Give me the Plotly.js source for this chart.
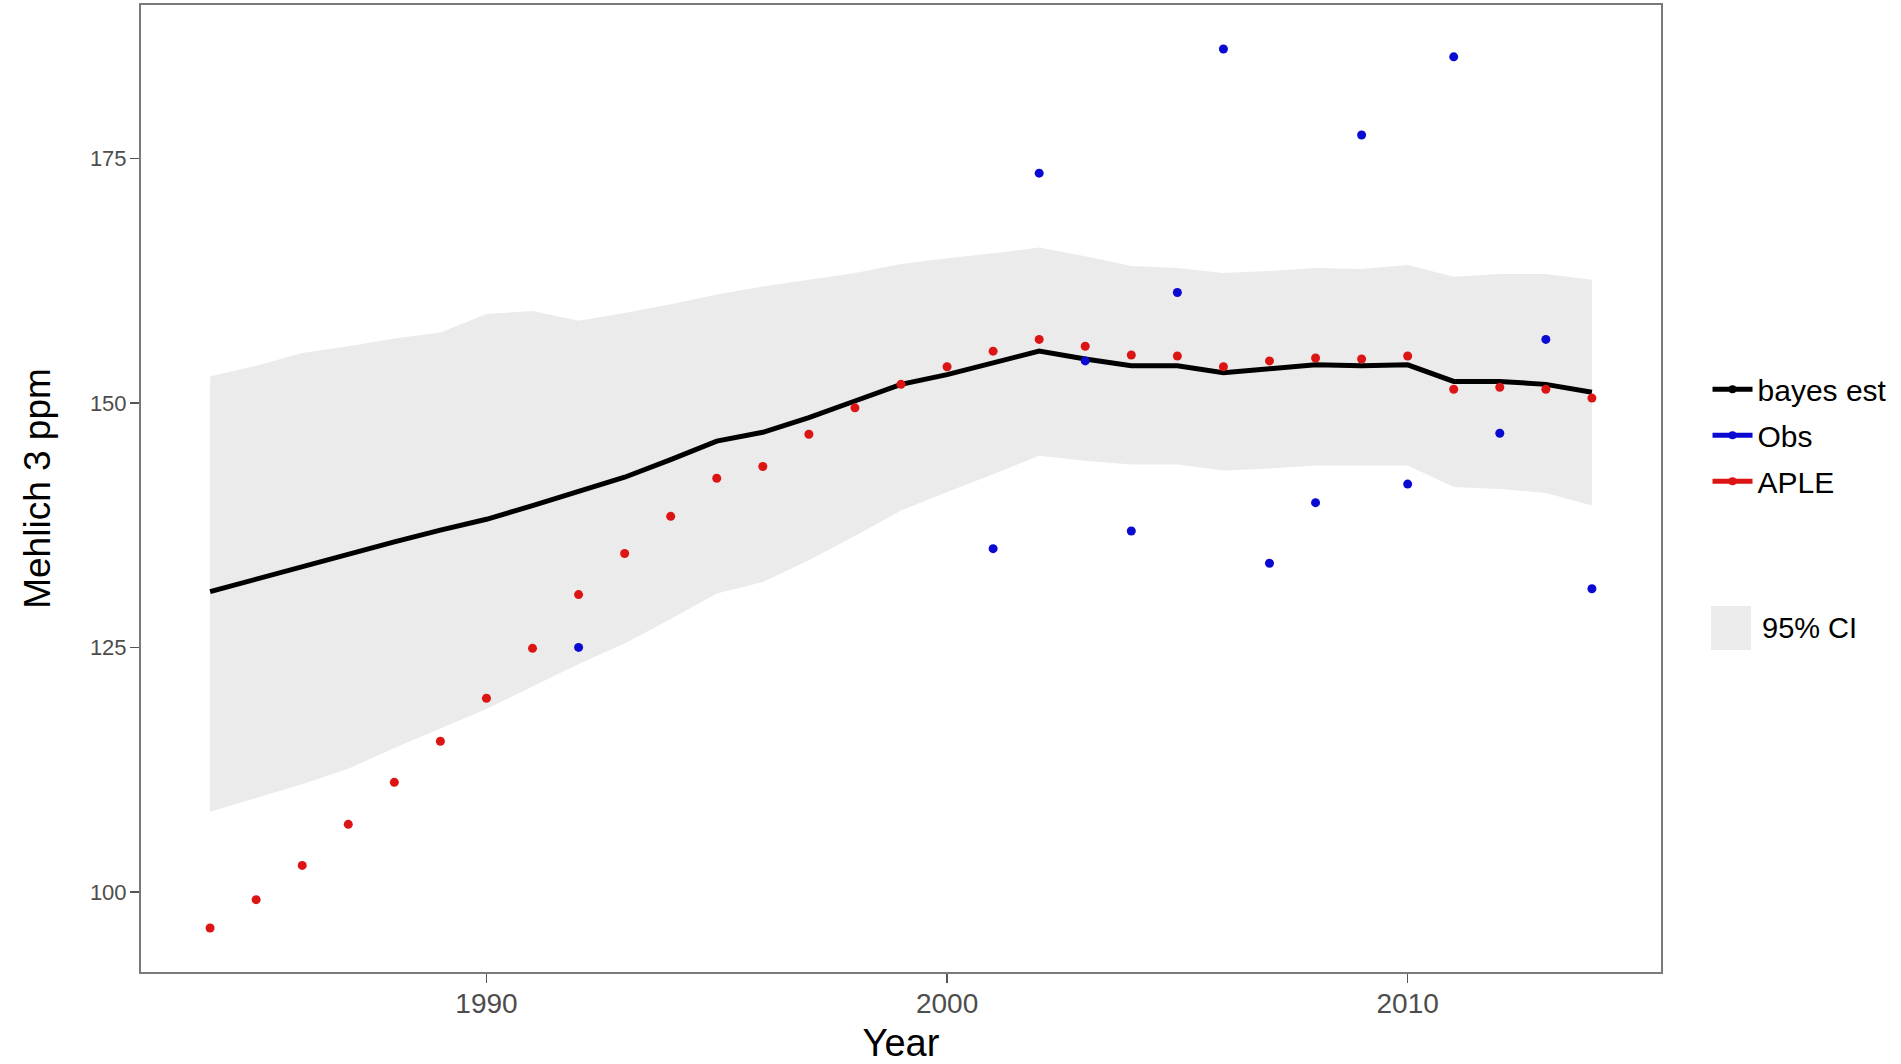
<!DOCTYPE html>
<html>
<head>
<meta charset="utf-8">
<script src="https://cdn.plot.ly/plotly-3.0.1.min.js"></script>
<style>html,body{margin:0;padding:0;background:#fff;}#chart{width:1901px;height:1064px;}</style>
</head>
<body>
<div id="chart"></div>
<script>
// ---- data ----
const years = [1984,1985,1986,1987,1988,1989,1990,1991,1992,1993,1994,1995,1996,1997,1998,1999,2000,2001,2002,2003,2004,2005,2006,2007,2008,2009,2010,2011,2012,2013,2014];
const bayesEst = [130.7,132.0,133.2,134.5,135.8,137.0,138.1,139.5,140.9,142.4,144.2,146.1,147.0,148.5,150.2,151.9,152.9,154.1,155.3,154.5,153.8,153.8,153.1,153.5,153.9,153.8,153.9,152.2,152.2,151.9,151.1];
const ciUpper = [152.7,153.8,155.1,155.8,156.6,157.2,159.1,159.4,158.4,159.2,160.1,161.1,161.9,162.6,163.3,164.2,164.8,165.3,165.9,165.0,164.0,163.8,163.3,163.5,163.8,163.7,164.1,162.9,163.2,163.2,162.6];
const ciLower = [108.2,109.6,111.0,112.6,114.7,116.7,118.7,121.0,123.3,125.4,127.9,130.5,131.7,133.9,136.4,139.0,140.9,142.7,144.6,144.1,143.7,143.7,143.1,143.3,143.6,143.6,143.6,141.4,141.2,140.8,139.5];
const apleValues = [96.3,99.2,102.7,106.9,111.2,115.4,119.8,124.9,130.4,134.6,138.4,142.3,143.5,146.8,149.5,151.9,153.7,155.3,156.5,155.8,154.9,154.8,153.7,154.3,154.6,154.5,154.8,151.4,151.6,151.4,150.5];
const obsYears = [1992,2001,2002,2003,2004,2005,2006,2007,2008,2009,2010,2011,2012,2013,2014];
const obsValues = [125.0,135.1,173.5,154.3,136.9,161.3,186.2,133.6,139.8,177.4,141.7,185.4,146.9,156.5,131.0];
const xTicks = [1990,2000,2010];
const yTicks = [100,125,150,175];
const seriesNames = ["bayes est","Obs","APLE"];
const ciLabel = "95% CI";

const FONT = "Liberation Sans, Arial, Helvetica, sans-serif";
const C_BAND = "#ebebeb", C_LINE = "#000000", C_OBS = "#0a0ad2", C_APLE = "#dc1414";

const traces = [
  {x: years, y: ciLower, mode: "lines", line: {width: 0}, hoverinfo: "skip", showlegend: false},
  {x: years, y: ciUpper, mode: "lines", line: {width: 0}, fill: "tonexty", fillcolor: C_BAND, showlegend: false, name: ciLabel},
  {x: years, y: bayesEst, mode: "lines", line: {color: C_LINE, width: 5}, showlegend: false, name: seriesNames[0]},
  {x: obsYears, y: obsValues, mode: "markers", marker: {color: C_OBS, size: 9}, showlegend: false, name: seriesNames[1]},
  {x: years, y: apleValues, mode: "markers", marker: {color: C_APLE, size: 9}, showlegend: false, name: seriesNames[2]},
  // legend keys (line + point glyphs, as in the reference legend)
  {x: [null], y: [null], mode: "lines+markers", name: seriesNames[0], legendgroup: "a", line: {color: C_LINE, width: 5}, marker: {color: C_LINE, size: 8}},
  {x: [null], y: [null], mode: "lines+markers", name: seriesNames[1], legendgroup: "b", line: {color: C_OBS, width: 5}, marker: {color: C_OBS, size: 8}},
  {x: [null], y: [null], mode: "lines+markers", name: seriesNames[2], legendgroup: "c", line: {color: C_APLE, width: 5}, marker: {color: C_APLE, size: 8}}
];

const layout = {
  width: 1901, height: 1064,
  paper_bgcolor: "#ffffff", plot_bgcolor: "#ffffff",
  margin: {l: 141, r: 240, t: 5, b: 92, pad: 0},
  font: {family: FONT, color: "#000"},
  showlegend: true,
  legend: {
    x: 1.0306, xanchor: "left", y: 0.6295, yanchor: "top",
    font: {family: FONT, size: 30, color: "#000"},
    itemwidth: 40, tracegroupgap: 4, traceorder: "grouped",
    bgcolor: "rgba(0,0,0,0)", borderwidth: 0
  },
  xaxis: {
    range: [1982.5, 2015.5], tickvals: xTicks, ticktext: xTicks.map(String),
    showgrid: false, zeroline: false,
    showline: true, mirror: true, linecolor: "#7a7a7a", linewidth: 2,
    ticks: "outside", ticklen: 9, tickwidth: 1.5, tickcolor: "#555",
    ticklabelstandoff: -4,
    tickfont: {family: FONT, size: 28, color: "#4d4d4d"},
    title: {text: "Year", font: {family: FONT, size: 38, color: "#000"}, standoff: 12}
  },
  yaxis: {
    range: [91.8, 190.7], tickvals: yTicks, ticktext: yTicks.map(String),
    showgrid: false, zeroline: false,
    showline: true, mirror: true, linecolor: "#7a7a7a", linewidth: 2,
    ticks: "outside", ticklen: 9, tickwidth: 1.5, tickcolor: "#555",
    ticklabelstandoff: -1,
    tickfont: {family: FONT, size: 22, color: "#4d4d4d"},
    title: {text: "Mehlich 3 ppm", font: {family: FONT, size: 37, color: "#000"}, standoff: 28}
  },
  shapes: [
    {type: "rect", xref: "paper", yref: "paper", x0: 1.0329, x1: 1.0592, y0: 0.333, y1: 0.3785, fillcolor: C_BAND, line: {width: 0}}
  ],
  annotations: [
    {xref: "paper", yref: "paper", x: 1.0651, y: 0.3557, xanchor: "left", yanchor: "middle", text: ciLabel, showarrow: false, font: {family: FONT, size: 29, color: "#000"}}
  ]
};

Plotly.newPlot("chart", traces, layout, {displayModeBar: false, staticPlot: true});
</script>
</body>
</html>
